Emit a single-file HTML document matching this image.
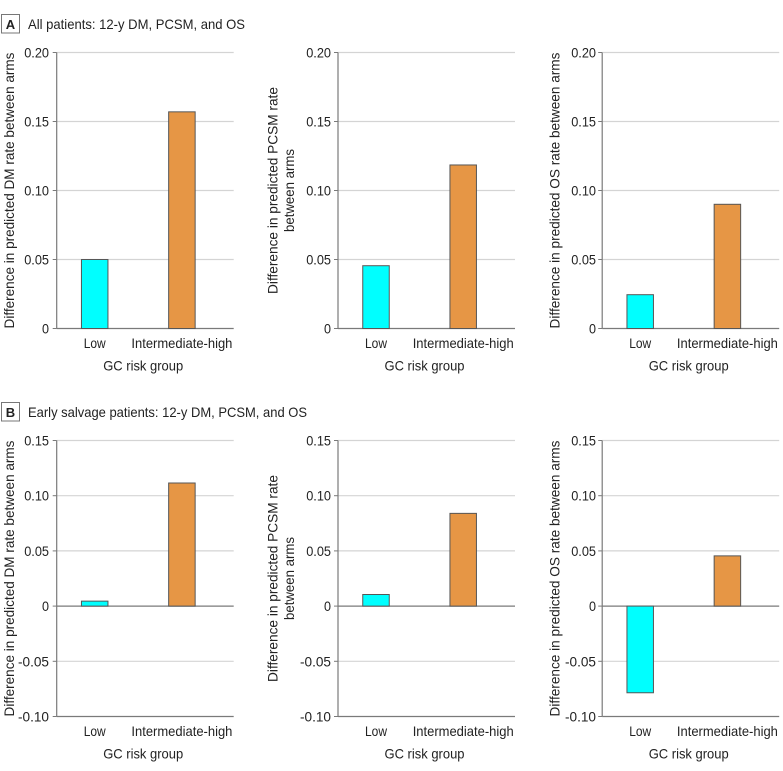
<!DOCTYPE html>
<html>
<head>
<meta charset="utf-8">
<title>Difference in predicted rates by GC risk group</title>
<style>
html,body{margin:0;padding:0;background:#fff;}
svg{display:block;font-family:"Liberation Sans",sans-serif;}
text{fill:#222;font-size:14px;}
</style>
</head>
<body>
<svg id="chart" xmlns="http://www.w3.org/2000/svg" width="783" height="771" viewBox="0 0 783 771">
  <g>
    <rect x="1.5" y="14.5" width="18" height="18.5" fill="#fff" stroke="#777"/>
    <text x="10.5" y="29" text-anchor="middle" style="font-weight:bold;font-size:13px">A</text>
    <text x="28" y="29" textLength="217" lengthAdjust="spacingAndGlyphs">All patients: 12-y DM, PCSM, and OS</text>
  </g>
  <g>
    <rect x="1.5" y="402.5" width="18" height="18.5" fill="#fff" stroke="#777"/>
    <text x="10.5" y="417" text-anchor="middle" style="font-weight:bold;font-size:13px">B</text>
    <text x="28" y="417" textLength="279" lengthAdjust="spacingAndGlyphs">Early salvage patients: 12-y DM, PCSM, and OS</text>
  </g>
</svg>
<script>
var categories = ['Low', 'Intermediate-high'];
var xAxisTitle = 'GC risk group';
var ticksA = [0, 0.05, 0.10, 0.15, 0.20];
var ticksB = [-0.10, -0.05, 0, 0.05, 0.10, 0.15];
var tickLabelsA = ['0', '0.05', '0.10', '0.15', '0.20'];
var tickLabelsB = ['-0.10', '-0.05', '0', '0.05', '0.10', '0.15'];
var valuesDmA = [0.050, 0.157];
var valuesPcsmA = [0.0455, 0.1185];
var valuesOsA = [0.0245, 0.090];
var valuesDmB = [0.0045, 0.1115];
var valuesPcsmB = [0.0105, 0.084];
var valuesOsB = [-0.0785, 0.0455];
var titleDm = ['Difference in predicted DM rate between arms'];
var titlePcsm = ['Difference in predicted PCSM rate', 'between arms'];
var titleOs = ['Difference in predicted OS rate between arms'];

var SVG_NS = 'http://www.w3.org/2000/svg';
var svg = document.getElementById('chart');
var barColors = ['#00ffff', '#e69645'];

function make(parent, tag, attrs) {
  var el = document.createElementNS(SVG_NS, tag);
  for (var k in attrs) { el.setAttribute(k, attrs[k]); }
  parent.appendChild(el);
  return el;
}

function drawPanel(name, left, labelGap, top, bottom, domainMin, domainMax, ticks, tickLabels, values, titleLines) {
  var right = left + 177;
  var g = make(svg, 'g', {});
  
  

  function yScale(v) { return bottom - (v - domainMin) / (domainMax - domainMin) * (bottom - top); }
  function xCenter(i) { return left + 38 + i * 87.2; }

  ticks.forEach(function (t, i) {
    var y = yScale(t);
    var isBase = t === 0 || t === domainMin;
    var grid = make(g, 'line', { x1: left, x2: right, y1: y, y2: y, stroke: isBase ? '#7a7a7a' : '#d4d4d4', 'stroke-width': 1.2 });
    
    
    var tick = make(g, 'line', { x1: left - 4, x2: left, y1: y, y2: y, stroke: '#7a7a7a', 'stroke-width': 1 });
    
    
    var label = make(g, 'text', { x: left - labelGap, y: y + 5, 'text-anchor': 'end', textLength: tickLabels[i].length > 2 ? tickLabels[i].length * 6.2 : 7, lengthAdjust: 'spacingAndGlyphs' });
    label.textContent = tickLabels[i];
    
    
  });

  var axis = make(g, 'line', { x1: left, x2: left, y1: top, y2: bottom, stroke: '#7a7a7a', 'stroke-width': 1.2 });
  
  

  values.forEach(function (v, i) {
    var y0 = yScale(0), y1 = yScale(v);
    var bar = make(g, 'rect', {
      x: xCenter(i) - 13.25, width: 26.5,
      y: Math.min(y0, y1), height: Math.abs(y0 - y1),
      fill: barColors[i], stroke: '#565656', 'stroke-width': 1
    });
    
    
    var cat = make(g, 'text', { x: xCenter(i), y: bottom + 19.5, 'text-anchor': 'middle', textLength: i === 0 ? 22 : 101, lengthAdjust: 'spacingAndGlyphs' });
    cat.textContent = categories[i];
    
    
  });

  var xTitle = make(g, 'text', { x: left + 86.5, y: bottom + 42, 'text-anchor': 'middle', textLength: 80, lengthAdjust: 'spacingAndGlyphs' });
  xTitle.textContent = xAxisTitle;
  
  

  var midY = (top + bottom) / 2;
  titleLines.forEach(function (line, i) {
    var tx = titleLines.length === 1 ? left - 42.5 : left - 60.5 + i * 16.5;
    var len = line.length > 20 ? line.length * 6.27 : 83;
    var t = make(g, 'text', { x: 0, y: 0, transform: 'translate(' + tx + ',' + midY + ') rotate(-90)', 'text-anchor': 'middle', textLength: len, lengthAdjust: 'spacingAndGlyphs' });
    t.textContent = line;
    
    
  });
}

var topA = 52.5, bottomA = 328.5, topB = 440.5, bottomB = 716.5;
var lefts = [56.7, 338, 602.2];
var labelGaps = [7.7, 7, 6.2];
drawPanel('chart-a-dm', lefts[0], labelGaps[0], topA, bottomA, 0, 0.20, ticksA, tickLabelsA, valuesDmA, titleDm);
drawPanel('chart-a-pcsm', lefts[1], labelGaps[1], topA, bottomA, 0, 0.20, ticksA, tickLabelsA, valuesPcsmA, titlePcsm);
drawPanel('chart-a-os', lefts[2], labelGaps[2], topA, bottomA, 0, 0.20, ticksA, tickLabelsA, valuesOsA, titleOs);
drawPanel('chart-b-dm', lefts[0], labelGaps[0], topB, bottomB, -0.10, 0.15, ticksB, tickLabelsB, valuesDmB, titleDm);
drawPanel('chart-b-pcsm', lefts[1], labelGaps[1], topB, bottomB, -0.10, 0.15, ticksB, tickLabelsB, valuesPcsmB, titlePcsm);
drawPanel('chart-b-os', lefts[2], labelGaps[2], topB, bottomB, -0.10, 0.15, ticksB, tickLabelsB, valuesOsB, titleOs);
</script>
</body>
</html>
